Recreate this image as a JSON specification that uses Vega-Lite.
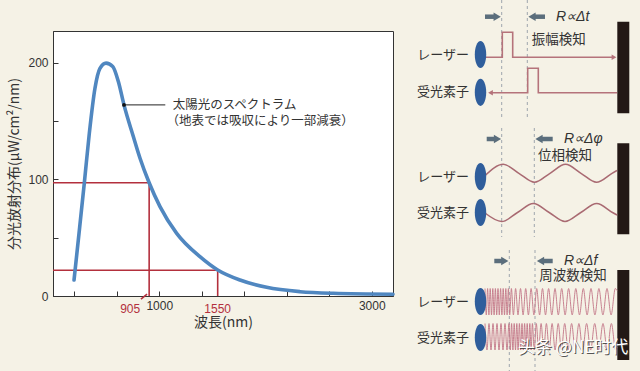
{
  "$schema": "https://vega.github.io/schema/vega-lite/v6.json",
  "width": 340,
  "height": 265,
  "autosize": {"type": "none"},
  "padding": {"left": 53, "top": 31, "right": 247, "bottom": 75},
  "background": "#f5f2e6",
  "config": {
    "view": {"fill": "#ffffff", "stroke": "#333333", "strokeWidth": 1},
    "font": "Noto Sans CJK JP"
  },
  "datasets": {
    "curve": [
      {"nm": 198, "v": 13.7}, {"nm": 245, "v": 53.7}, {"nm": 295, "v": 97}, {"nm": 342, "v": 139.5},
      {"nm": 395, "v": 178}, {"nm": 442, "v": 195}, {"nm": 499, "v": 199.5}, {"nm": 562, "v": 196.6},
      {"nm": 615, "v": 183.7}, {"nm": 668, "v": 163.7}, {"nm": 756, "v": 136.6}, {"nm": 819, "v": 118},
      {"nm": 905, "v": 97}, {"nm": 1007, "v": 76.6}, {"nm": 1164, "v": 53.7}, {"nm": 1383, "v": 33.7},
      {"nm": 1550, "v": 22.3}, {"nm": 1760, "v": 13.7}, {"nm": 2011, "v": 7.4}, {"nm": 2325, "v": 3.7},
      {"nm": 2638, "v": 2.3}, {"nm": 3200, "v": 1.5}
    ],
    "guides": [
      {"nm": 0, "nm2": 905, "v": 97, "v2": 97},
      {"nm": 905, "nm2": 905, "v": 0, "v2": 97},
      {"nm": 0, "nm2": 1550, "v": 22, "v2": 22},
      {"nm": 1550, "nm2": 1550, "v": 0, "v2": 22},
      {"nm": 828, "nm2": 885, "v": -2.6, "v2": 1.7}
    ],
    "redlab": [{"nm": 905, "v": 0, "lab": "905"}, {"nm": 1550, "v": 0, "lab": "1550"}],
    "leader": [{"nm": 668, "nm2": 1057, "v": 163.7}],
    "note": [
      {"nm": 1127, "v": 163.7, "t": "太陽光のスペクトラム"},
      {"nm": 1068, "v": 150.2, "t": "（地表では吸収により一部減衰）"}
    ],
    "dash": [
      {"x": 101.7, "y": 0, "y2": 117}, {"x": 127.3, "y": 0, "y2": 117},
      {"x": 101.7, "y": 128, "y2": 237}, {"x": 134.3, "y": 128, "y2": 237},
      {"x": 109.3, "y": 250, "y2": 371}, {"x": 135, "y": 250, "y2": 371}
    ],
    "bars": [
      {"x": 217.3, "x2": 229.3, "y": 21.7, "y2": 113.3},
      {"x": 217.3, "x2": 229.3, "y": 143.3, "y2": 234.3},
      {"x": 217.3, "x2": 229.3, "y": 270, "y2": 360}
    ],
    "pulse": [
      {"s": "laser", "o": 1, "x": 85, "y": 57.3}, {"s": "laser", "o": 2, "x": 102.3, "y": 57.3},
      {"s": "laser", "o": 3, "x": 102.3, "y": 32.3}, {"s": "laser", "o": 4, "x": 112.7, "y": 32.3},
      {"s": "laser", "o": 5, "x": 112.7, "y": 57.3}, {"s": "laser", "o": 6, "x": 214, "y": 57.3},
      {"s": "recv", "o": 1, "x": 217, "y": 92.7}, {"s": "recv", "o": 2, "x": 138.3, "y": 92.7},
      {"s": "recv", "o": 3, "x": 138.3, "y": 68.3}, {"s": "recv", "o": 4, "x": 127.7, "y": 68.3},
      {"s": "recv", "o": 5, "x": 127.7, "y": 92.7}, {"s": "recv", "o": 6, "x": 90, "y": 92.7}
    ],
    "pulsehead": [
      {"x": 214, "y": 57.3, "d": "triangle-right"},
      {"x": 90.5, "y": 92.7, "d": "triangle-left"}
    ],
    "shaft": [
      {"x": 85, "x2": 94.5, "y": 16.7}, {"x": 134, "x2": 145, "y": 16.7},
      {"x": 86.7, "x2": 95.5, "y": 139}, {"x": 140.5, "x2": 152.7, "y": 139},
      {"x": 94.3, "x2": 102.8, "y": 261}, {"x": 142, "x2": 152.7, "y": 261}
    ],
    "head": [
      {"x": 97.2, "y": 16.7, "d": "triangle-right"}, {"x": 132, "y": 16.7, "d": "triangle-left"},
      {"x": 97.5, "y": 139, "d": "triangle-right"}, {"x": 139, "y": 139, "d": "triangle-left"},
      {"x": 104.8, "y": 261, "d": "triangle-right"}, {"x": 140.5, "y": 261, "d": "triangle-left"}
    ],
    "phase": [
      {"s": "laser", "x": 85, "y": 175.6}, {"s": "laser", "x": 103.3, "y": 164.3},
      {"s": "laser", "x": 118.9, "y": 173.3}, {"s": "laser", "x": 134.5, "y": 182.3},
      {"s": "laser", "x": 150, "y": 173.3}, {"s": "laser", "x": 165.5, "y": 164.3},
      {"s": "laser", "x": 181, "y": 173.3}, {"s": "laser", "x": 196.5, "y": 182.3},
      {"s": "laser", "x": 212, "y": 173.3}, {"s": "laser", "x": 217, "y": 170.5},
      {"s": "recv", "x": 85, "y": 213}, {"s": "recv", "x": 101.7, "y": 221.5},
      {"s": "recv", "x": 117.5, "y": 212.5}, {"s": "recv", "x": 133.3, "y": 203.5},
      {"s": "recv", "x": 149.2, "y": 212.5}, {"s": "recv", "x": 165, "y": 221.5},
      {"s": "recv", "x": 180.8, "y": 212.5}, {"s": "recv", "x": 196.7, "y": 203.5},
      {"s": "recv", "x": 212.5, "y": 212.5}, {"s": "recv", "x": 217, "y": 215}
    ],
    "chirp": [
      {"s": "L", "x": 85, "y": 288.5}, {"s": "L", "x": 86.3, "y": 314.9}, {"s": "L", "x": 87.6, "y": 288.5},
      {"s": "L", "x": 88.9, "y": 314.9}, {"s": "L", "x": 90.2, "y": 288.5}, {"s": "L", "x": 91.5, "y": 314.9},
      {"s": "L", "x": 92.8, "y": 288.5}, {"s": "L", "x": 94.1, "y": 314.9}, {"s": "L", "x": 95.4, "y": 288.5},
      {"s": "L", "x": 96.7, "y": 314.9}, {"s": "L", "x": 98.0, "y": 288.5}, {"s": "L", "x": 99.3, "y": 314.9},
      {"s": "L", "x": 100.6, "y": 288.5}, {"s": "L", "x": 101.9, "y": 314.9}, {"s": "L", "x": 103.2, "y": 288.5},
      {"s": "L", "x": 104.5, "y": 314.9}, {"s": "L", "x": 105.8, "y": 288.5}, {"s": "L", "x": 107.1, "y": 314.9},
      {"s": "L", "x": 108.4, "y": 288.5}, {"s": "L", "x": 109.7, "y": 314.9}, {"s": "L", "x": 111.4, "y": 288.5},
      {"s": "L", "x": 113.4, "y": 314.9}, {"s": "L", "x": 115.6, "y": 288.5}, {"s": "L", "x": 118.0, "y": 314.9},
      {"s": "L", "x": 120.5, "y": 288.5}, {"s": "L", "x": 123.1, "y": 314.9}, {"s": "L", "x": 125.7, "y": 288.5},
      {"s": "L", "x": 128.4, "y": 314.9}, {"s": "L", "x": 131.1, "y": 288.5}, {"s": "L", "x": 133.9, "y": 314.9},
      {"s": "L", "x": 136.7, "y": 288.5}, {"s": "L", "x": 139.6, "y": 314.9}, {"s": "L", "x": 142.5, "y": 288.5},
      {"s": "L", "x": 145.5, "y": 314.9}, {"s": "L", "x": 148.6, "y": 288.5}, {"s": "L", "x": 151.8, "y": 314.9},
      {"s": "L", "x": 155.0, "y": 288.5}, {"s": "L", "x": 158.3, "y": 314.9}, {"s": "L", "x": 161.7, "y": 288.5},
      {"s": "L", "x": 165.1, "y": 314.9}, {"s": "L", "x": 168.6, "y": 288.5}, {"s": "L", "x": 172.2, "y": 314.9},
      {"s": "L", "x": 175.8, "y": 288.5}, {"s": "L", "x": 179.5, "y": 314.9}, {"s": "L", "x": 183.3, "y": 288.5},
      {"s": "L", "x": 187.1, "y": 314.9}, {"s": "L", "x": 191.0, "y": 288.5}, {"s": "L", "x": 194.9, "y": 314.9},
      {"s": "L", "x": 198.9, "y": 288.5}, {"s": "L", "x": 202.9, "y": 314.9}, {"s": "L", "x": 207.0, "y": 288.5},
      {"s": "L", "x": 211.1, "y": 314.9}, {"s": "L", "x": 215.3, "y": 288.5}, {"s": "L", "x": 217, "y": 290.5},
      {"s": "R", "x": 85, "y": 323.5}, {"s": "R", "x": 87, "y": 350}, {"s": "R", "x": 89, "y": 323.5},
      {"s": "R", "x": 91, "y": 350}, {"s": "R", "x": 93, "y": 323.5}, {"s": "R", "x": 95, "y": 350},
      {"s": "R", "x": 97, "y": 323.5}, {"s": "R", "x": 99, "y": 350}, {"s": "R", "x": 101, "y": 323.5},
      {"s": "R", "x": 103, "y": 350}, {"s": "R", "x": 105, "y": 323.5}, {"s": "R", "x": 107, "y": 350},
      {"s": "R", "x": 109, "y": 323.5}, {"s": "R", "x": 110.3, "y": 350}, {"s": "R", "x": 111.6, "y": 323.5},
      {"s": "R", "x": 112.9, "y": 350}, {"s": "R", "x": 114.2, "y": 323.5}, {"s": "R", "x": 115.5, "y": 350},
      {"s": "R", "x": 116.8, "y": 323.5}, {"s": "R", "x": 118.1, "y": 350}, {"s": "R", "x": 119.4, "y": 323.5},
      {"s": "R", "x": 120.7, "y": 350}, {"s": "R", "x": 122.0, "y": 323.5}, {"s": "R", "x": 123.3, "y": 350},
      {"s": "R", "x": 124.6, "y": 323.5}, {"s": "R", "x": 125.9, "y": 350}, {"s": "R", "x": 127.2, "y": 323.5},
      {"s": "R", "x": 128.5, "y": 350}, {"s": "R", "x": 129.8, "y": 323.5}, {"s": "R", "x": 131.1, "y": 350},
      {"s": "R", "x": 132.4, "y": 323.5}, {"s": "R", "x": 134.2, "y": 350}, {"s": "R", "x": 136.3, "y": 323.5},
      {"s": "R", "x": 138.6, "y": 350}, {"s": "R", "x": 141.1, "y": 323.5}, {"s": "R", "x": 143.7, "y": 350},
      {"s": "R", "x": 146.4, "y": 323.5}, {"s": "R", "x": 149.2, "y": 350}, {"s": "R", "x": 152.1, "y": 323.5},
      {"s": "R", "x": 155.1, "y": 350}, {"s": "R", "x": 158.2, "y": 323.5}, {"s": "R", "x": 161.4, "y": 350},
      {"s": "R", "x": 164.7, "y": 323.5}, {"s": "R", "x": 168.1, "y": 350}, {"s": "R", "x": 171.6, "y": 323.5},
      {"s": "R", "x": 175.2, "y": 350}, {"s": "R", "x": 178.9, "y": 323.5}, {"s": "R", "x": 182.7, "y": 350},
      {"s": "R", "x": 186.6, "y": 323.5}, {"s": "R", "x": 190.6, "y": 350}, {"s": "R", "x": 194.7, "y": 323.5},
      {"s": "R", "x": 198.8, "y": 350}, {"s": "R", "x": 203.0, "y": 323.5}, {"s": "R", "x": 207.2, "y": 350},
      {"s": "R", "x": 211.4, "y": 323.5}, {"s": "R", "x": 215.6, "y": 350}, {"s": "R", "x": 217, "y": 347}
    ],
    "ell": [
      {"x": 80.5, "y": 54.5}, {"x": 80.5, "y": 92.3}, {"x": 80.5, "y": 176.7},
      {"x": 80.5, "y": 212.5}, {"x": 80.5, "y": 301.5}, {"x": 80.5, "y": 337.5}
    ],
    "side": [
      {"x": 69, "y": 54.5, "t": "レーザー"}, {"x": 69, "y": 92.3, "t": "受光素子"},
      {"x": 69, "y": 176.7, "t": "レーザー"}, {"x": 69, "y": 212.8, "t": "受光素子"},
      {"x": 69, "y": 301.7, "t": "レーザー"}, {"x": 69, "y": 338, "t": "受光素子"}
    ],
    "formula": [
      {"x": 156, "y": 16.5, "t": "R∝Δt"}, {"x": 164, "y": 138.5, "t": "R∝Δφ"}, {"x": 164, "y": 260.5, "t": "R∝Δf"}
    ],
    "detect": [
      {"x": 131.7, "y": 39.5, "t": "振幅検知"}, {"x": 138, "y": 155.5, "t": "位相検知"}, {"x": 139.3, "y": 276.2, "t": "周波数検知"}
    ],
    "wm": [{"x": 118, "y": 348.3, "t": "头条 @NE时代"}]
  },
  "layer": [
    {
      "layer": [
        {
          "data": {"name": "guides"},
          "mark": {"type": "rule", "color": "#b3303d", "strokeWidth": 1.6},
          "encoding": {
            "x": {"field": "nm", "type": "quantitative", "scale": {"domain": [0, 3200], "nice": false, "zero": false},
              "axis": {
                "values": [200, 400, 600, 800, 1000, 1200, 1400, 1600, 1800, 2000, 2200, 2400, 2600, 2800, 3000],
                "labelExpr": "(datum.value == 1000 || datum.value == 2000 || datum.value == 3000) ? datum.label : ''",
                "format": "d", "grid": false, "tickSize": -5, "tickColor": "#333333", "domainColor": "#333333",
                "labelFont": "Liberation Sans", "labelFontSize": 12, "labelColor": "#333333", "labelPadding": 9,
                "labelOverlap": false, "labelFlush": false,
                "title": "波長(nm)", "titleFont": "Noto Sans CJK JP", "titleFontSize": 14, "titleFontWeight": "normal",
                "titleColor": "#333333", "titlePadding": 4
              }},
            "x2": {"field": "nm2"},
            "y": {"field": "v", "type": "quantitative", "scale": {"domain": [0, 227], "nice": false, "zero": false},
              "axis": {
                "values": [0, 50, 100, 150, 200],
                "labelExpr": "datum.value % 100 == 0 ? datum.label : ''",
                "grid": false, "tickSize": -5, "tickColor": "#333333", "domainColor": "#333333",
                "labelFont": "Liberation Sans", "labelFontSize": 12, "labelColor": "#333333", "labelPadding": 10,
                "title": "分光放射分布(μW/cm²/nm)", "titleFont": "Noto Sans CJK JP", "titleFontSize": 14,
                "titleFontWeight": "normal", "titleColor": "#333333", "titlePadding": 6
              }},
            "y2": {"field": "v2"}
          }
        },
        {
          "data": {"name": "curve"},
          "mark": {"type": "line", "color": "#5087c0", "strokeWidth": 3.6, "interpolate": "monotone", "strokeCap": "round"},
          "encoding": {
            "x": {"field": "nm", "type": "quantitative"},
            "y": {"field": "v", "type": "quantitative"}
          }
        },
        {
          "data": {"name": "leader"},
          "mark": {"type": "rule", "color": "#222222", "strokeWidth": 1},
          "encoding": {
            "x": {"field": "nm", "type": "quantitative"},
            "x2": {"field": "nm2"},
            "y": {"field": "v", "type": "quantitative"}
          }
        },
        {
          "data": {"name": "leader"},
          "mark": {"type": "point", "filled": true, "color": "#111111", "size": 14, "opacity": 1},
          "encoding": {
            "x": {"field": "nm", "type": "quantitative"},
            "y": {"field": "v", "type": "quantitative"}
          }
        },
        {
          "data": {"name": "note"},
          "mark": {"type": "text", "align": "left", "baseline": "middle", "fontSize": 12.5, "color": "#333333", "font": "Noto Sans CJK JP"},
          "encoding": {
            "x": {"field": "nm", "type": "quantitative"},
            "y": {"field": "v", "type": "quantitative"},
            "text": {"field": "t"}
          }
        },
        {
          "data": {"name": "redlab"},
          "transform": [{"filter": "datum.nm == 905"}],
          "mark": {"type": "text", "align": "center", "baseline": "top", "dy": 8, "dx": -19, "fontSize": 12, "color": "#b3303d", "font": "Liberation Sans"},
          "encoding": {
            "x": {"field": "nm", "type": "quantitative"},
            "y": {"field": "v", "type": "quantitative"},
            "text": {"field": "lab"}
          }
        },
        {
          "data": {"name": "redlab"},
          "transform": [{"filter": "datum.nm == 1550"}],
          "mark": {"type": "text", "align": "center", "baseline": "top", "dy": 8, "fontSize": 12, "color": "#b3303d", "font": "Liberation Sans"},
          "encoding": {
            "x": {"field": "nm", "type": "quantitative"},
            "y": {"field": "v", "type": "quantitative"},
            "text": {"field": "lab"}
          }
        }
      ]
    },
    {
      "layer": [
        {
          "data": {"name": "dash"},
          "mark": {"type": "rule", "color": "#9ea5ad", "strokeWidth": 1, "strokeDash": [3, 3]},
          "encoding": {
            "x": {"field": "x", "type": "quantitative", "scale": {"domain": [0, 240], "range": [347, 587], "nice": false, "zero": false}, "axis": null},
            "y": {"field": "y", "type": "quantitative", "scale": {"domain": [0, 371], "range": [-31, 340], "nice": false, "zero": false}, "axis": null},
            "y2": {"field": "y2"}
          }
        },
        {
          "data": {"name": "bars"},
          "mark": {"type": "rect", "color": "#231815"},
          "encoding": {
            "x": {"field": "x", "type": "quantitative"},
            "x2": {"field": "x2"},
            "y": {"field": "y", "type": "quantitative"},
            "y2": {"field": "y2"}
          }
        },
        {
          "data": {"name": "pulse"},
          "mark": {"type": "line", "color": "#b5737b", "strokeWidth": 1.6},
          "encoding": {
            "x": {"field": "x", "type": "quantitative"},
            "y": {"field": "y", "type": "quantitative"},
            "detail": {"field": "s"},
            "order": {"field": "o", "type": "quantitative"}
          }
        },
        {
          "data": {"name": "pulsehead"},
          "mark": {"type": "point", "filled": true, "color": "#b5737b", "size": 30, "opacity": 1},
          "encoding": {
            "x": {"field": "x", "type": "quantitative"},
            "y": {"field": "y", "type": "quantitative"},
            "shape": {"field": "d", "type": "nominal", "scale": null}
          }
        },
        {
          "data": {"name": "shaft"},
          "mark": {"type": "rule", "color": "#5b6e7c", "strokeWidth": 4.5},
          "encoding": {
            "x": {"field": "x", "type": "quantitative"},
            "x2": {"field": "x2"},
            "y": {"field": "y", "type": "quantitative"}
          }
        },
        {
          "data": {"name": "head"},
          "mark": {"type": "point", "filled": true, "color": "#5b6e7c", "size": 70, "opacity": 1},
          "encoding": {
            "x": {"field": "x", "type": "quantitative"},
            "y": {"field": "y", "type": "quantitative"},
            "shape": {"field": "d", "type": "nominal", "scale": null}
          }
        },
        {
          "data": {"name": "phase"},
          "mark": {"type": "line", "color": "#a96a72", "strokeWidth": 1.5, "interpolate": "monotone"},
          "encoding": {
            "x": {"field": "x", "type": "quantitative"},
            "y": {"field": "y", "type": "quantitative"},
            "detail": {"field": "s"}
          }
        },
        {
          "data": {"name": "chirp"},
          "mark": {"type": "line", "color": "#c27486", "strokeWidth": 0.9, "interpolate": "monotone"},
          "encoding": {
            "x": {"field": "x", "type": "quantitative"},
            "y": {"field": "y", "type": "quantitative"},
            "detail": {"field": "s"}
          }
        },
        {
          "data": {"name": "ell"},
          "mark": {"type": "point", "filled": true, "color": "#2f5e9c", "opacity": 1, "size": 740,
            "shape": "M0,-1A0.42,1,0,1,1,0,1A0.42,1,0,1,1,0,-1Z"},
          "encoding": {
            "x": {"field": "x", "type": "quantitative"},
            "y": {"field": "y", "type": "quantitative"}
          }
        },
        {
          "data": {"name": "side"},
          "mark": {"type": "text", "align": "right", "baseline": "middle", "fontSize": 13, "color": "#333333", "font": "Noto Sans CJK JP"},
          "encoding": {
            "x": {"field": "x", "type": "quantitative"},
            "y": {"field": "y", "type": "quantitative"},
            "text": {"field": "t"}
          }
        },
        {
          "data": {"name": "formula"},
          "mark": {"type": "text", "align": "left", "baseline": "middle", "fontSize": 14, "fontStyle": "italic", "color": "#333333", "font": "Liberation Sans"},
          "encoding": {
            "x": {"field": "x", "type": "quantitative"},
            "y": {"field": "y", "type": "quantitative"},
            "text": {"field": "t"}
          }
        },
        {
          "data": {"name": "detect"},
          "mark": {"type": "text", "align": "left", "baseline": "middle", "fontSize": 13.5, "color": "#333333", "font": "Noto Sans CJK JP"},
          "encoding": {
            "x": {"field": "x", "type": "quantitative"},
            "y": {"field": "y", "type": "quantitative"},
            "text": {"field": "t"}
          }
        },
        {
          "data": {"name": "wm"},
          "mark": {"type": "text", "align": "left", "baseline": "middle", "fontSize": 17, "color": "#3a3a3a", "opacity": 0.85, "dx": 1, "dy": 1, "font": "Noto Sans CJK SC"},
          "encoding": {
            "x": {"field": "x", "type": "quantitative"},
            "y": {"field": "y", "type": "quantitative"},
            "text": {"field": "t"}
          }
        },
        {
          "data": {"name": "wm"},
          "mark": {"type": "text", "align": "left", "baseline": "middle", "fontSize": 17, "color": "#ffffff", "font": "Noto Sans CJK SC"},
          "encoding": {
            "x": {"field": "x", "type": "quantitative"},
            "y": {"field": "y", "type": "quantitative"},
            "text": {"field": "t"}
          }
        }
      ]
    }
  ],
  "resolve": {"scale": {"x": "independent", "y": "independent"}}
}
